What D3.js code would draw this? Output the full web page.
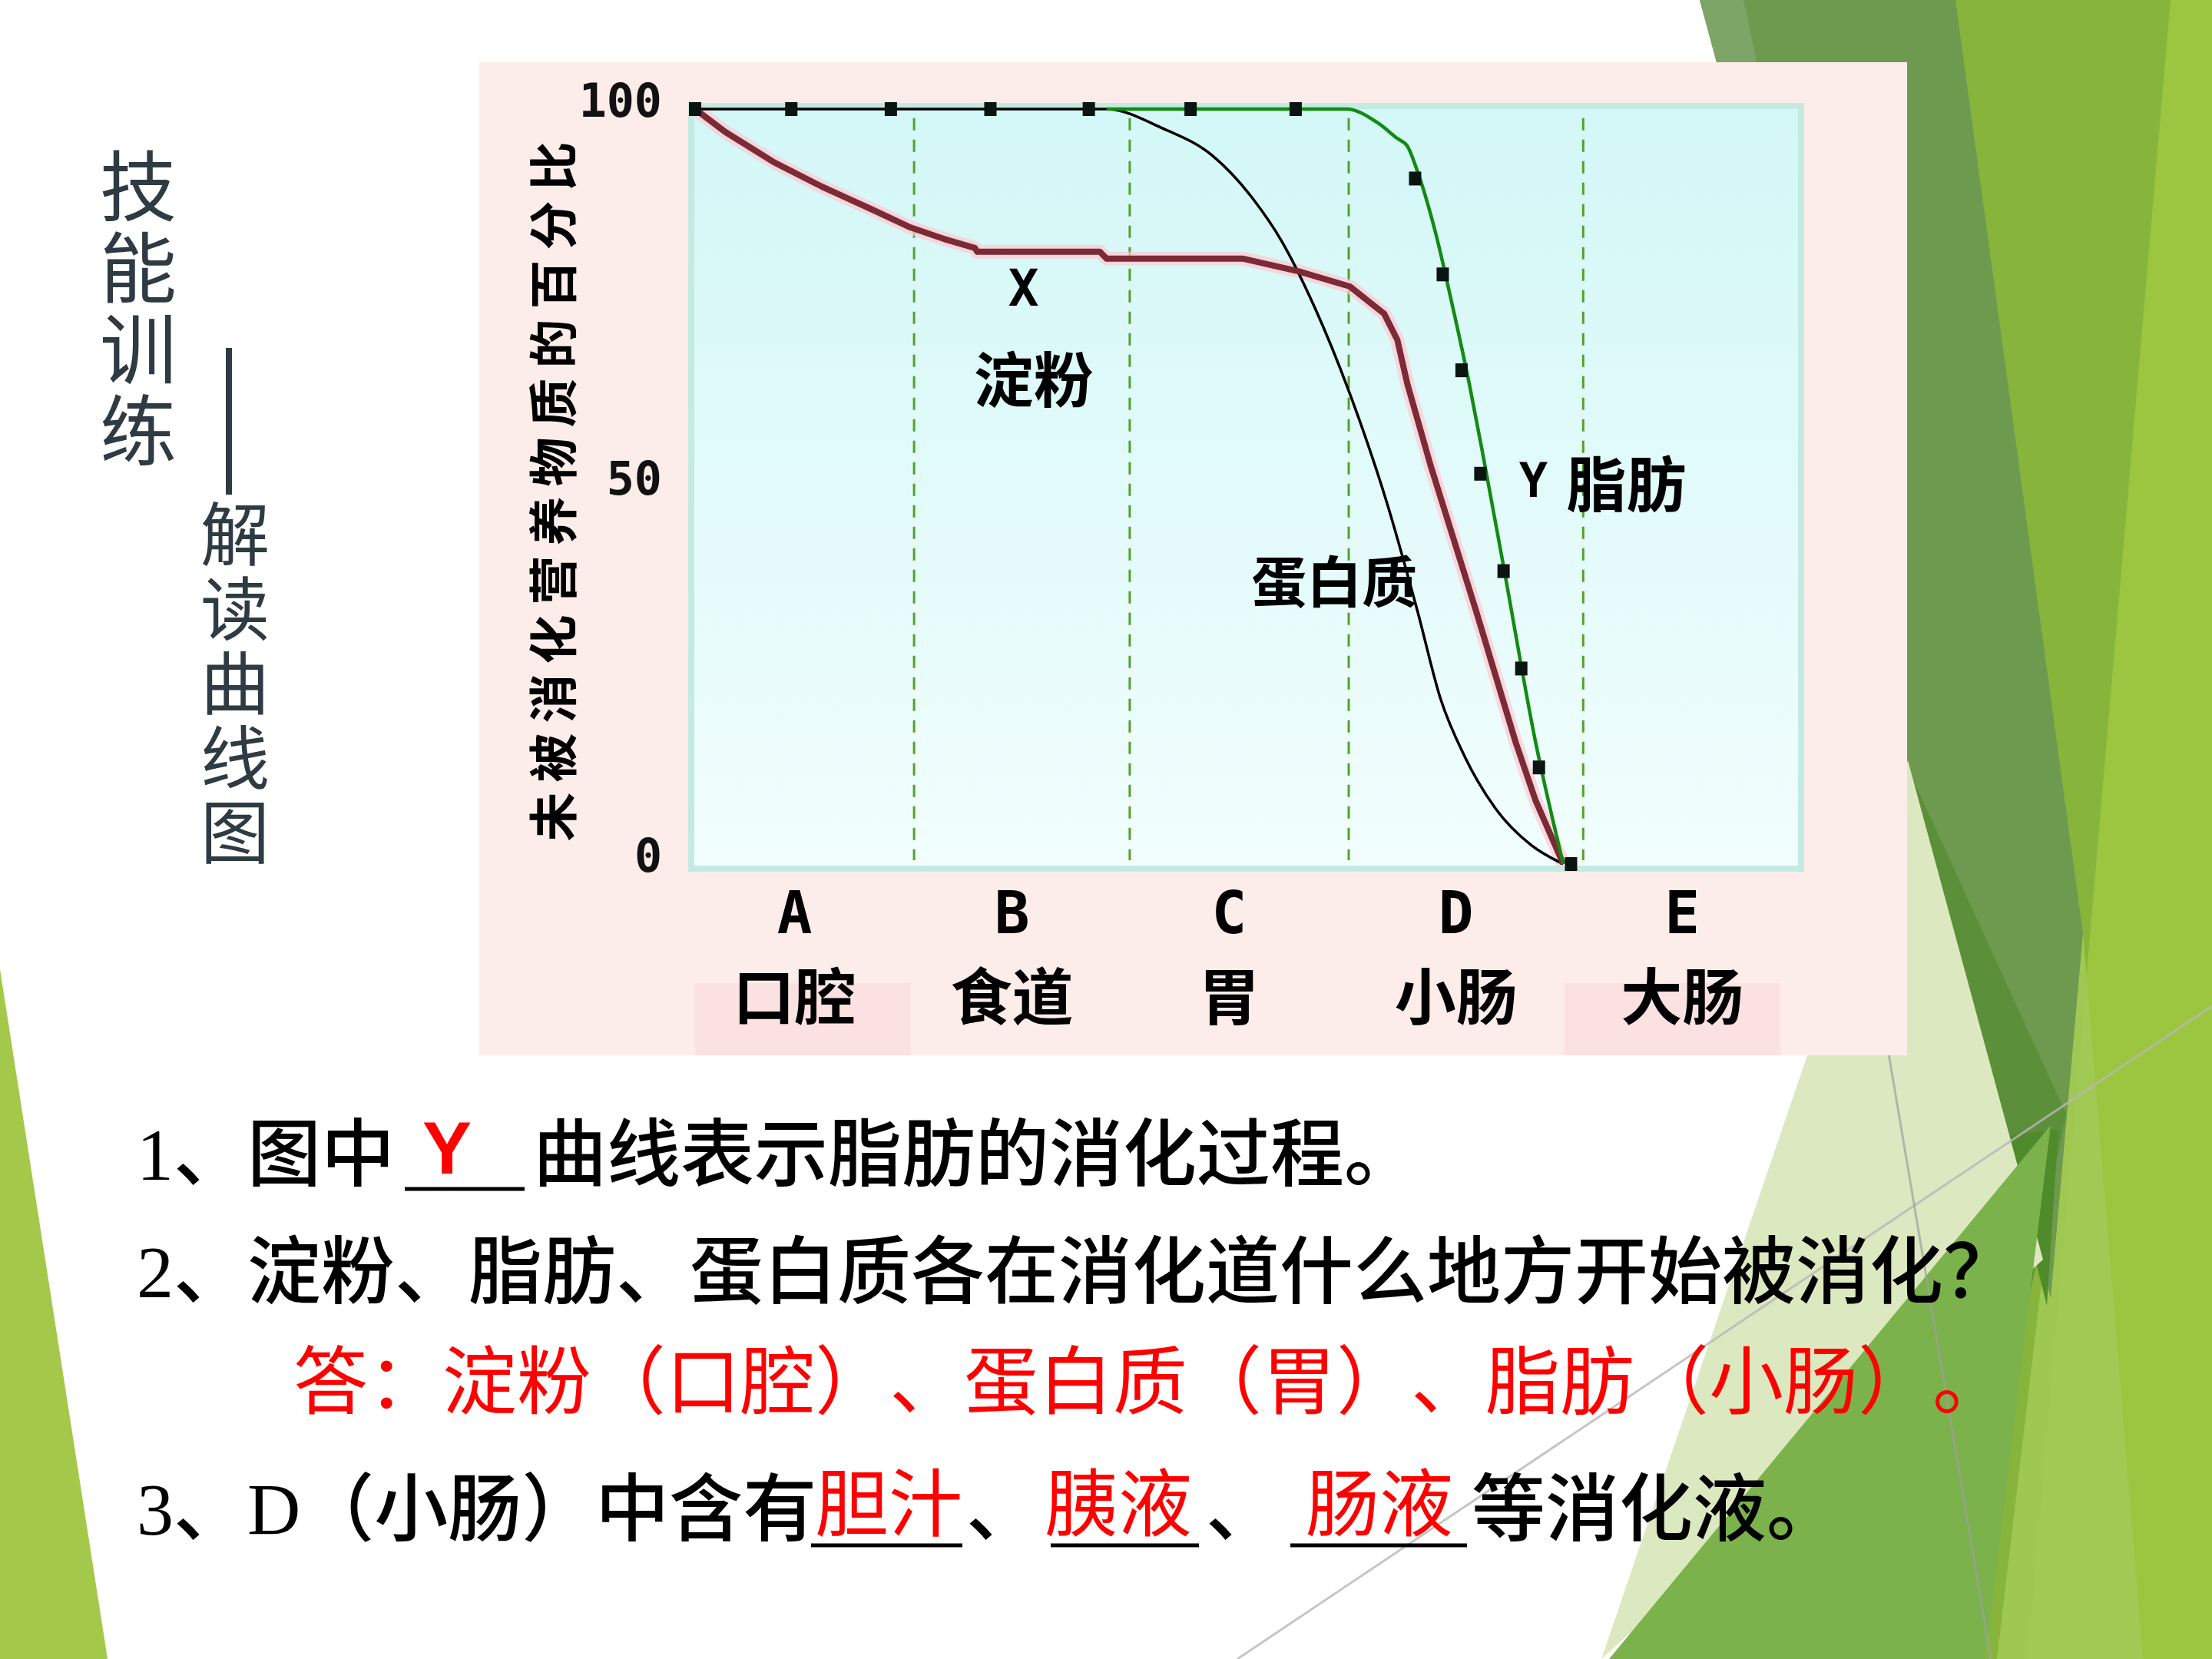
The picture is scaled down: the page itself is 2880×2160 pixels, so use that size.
<!DOCTYPE html>
<html><head><meta charset="utf-8">
<script src="https://cdn.jsdelivr.net/npm/d3@7"></script>
<style>html,body{margin:0;padding:0;background:#fff;} svg{display:block;}</style>
</head><body><svg id="c" width="2880" height="2160"></svg>
<script>
// ---------- data ----------
const regionLetters = ["A", "B", "C", "D", "E"];
const organNames = ["口腔", "食道", "胃", "小肠", "大肠"];
const regionBounds = [0, 19.8, 39.3, 59.1, 80.3, 100];
const yTickValues = [0, 50, 100];
const yAxisTitle = "未被消化营养物质的百分比";

// X : starch
const starchX = [0, 2.7, 7.2, 11.5, 16, 19.5, 22.5, 25.3, 25.5, 36.6, 37.2, 49.5, 54.6, 59.2, 62.3, 63.5, 64.4, 66.5, 70.6, 74.2, 76, 78.5];
const starchV = [100, 97, 92.9, 89.7, 86.7, 84.3, 82.8, 81.6, 81.1, 81.1, 80.2, 80.2, 78.5, 76.5, 72.9, 69.4, 63.6, 52.8, 33.6, 16.1, 8.4, 0];
// protein
const proteinX = [0, 37.2, 42.2, 46.8, 50.5, 53, 56, 59.4, 62.5, 65.3, 67.4, 69.6, 72.4, 75.6, 78.5];
const proteinV = [100, 100, 97.5, 93.8, 88, 82.6, 73.8, 61.5, 48.1, 33.6, 21.9, 14.2, 7.3, 2.5, 0];
// Y : fat
const fatX = [37.2, 58.9, 61.7, 63.5, 64.4, 65.3, 66.9, 68.5, 70, 71.3, 73.1, 76, 78.5];
const fatV = [100, 100, 98.2, 96.1, 95.1, 91.8, 83.9, 73.8, 63.6, 53.7, 39.4, 16.1, 0];
const fatMarkX = [0, 8.7, 17.7, 26.7, 35.6, 44.8, 54.3, 65.1, 67.6, 69.3, 71.0, 73.1, 74.7, 76.3, 79.2];
const fatMarkV = [100, 100, 100, 100, 100, 100, 100, 90.8, 78.1, 65.4, 51.7, 38.8, 25.9, 12.8, 0];

const seriesLetters = ["X", "Y"];
const seriesNames = ["淀粉", "脂肪", "蛋白质"];

const titleMain = "技能训练";
const titleSub = "解读曲线图";
const q1 = ["1、图中", "Y", "曲线表示脂肪的消化过程。"];
const q2 = "2、淀粉、脂肪、蛋白质各在消化道什么地方开始被消化？";
const a2 = "答：淀粉（口腔）、蛋白质（胃）、脂肪（小肠）。";
const q3 = ["3、D（小肠）中含有", "、", "、", "等消化液。"];
const a3 = ["胆汁", "胰液", "肠液"];

// ---------- drawing ----------
const svg = d3.select("#c");
const CJK = "'Noto Sans CJK SC', sans-serif";
const SERIF = "'Liberation Serif', 'Noto Sans CJK SC', serif";
const MONO = "'DejaVu Sans Mono', monospace";

svg.append("rect").attr("width", 2880).attr("height", 2160).attr("fill", "#ffffff");

// decorative background facets
const bg = svg.append("g");
const facets = [
  {p: [[2546,0],[2880,0],[2880,2160],[2560,2160]], f: "#87b53b"},
  {p: [[2826,0],[2880,0],[2880,2160],[2640,2160]], f: "#9cc63f"},
  {p: [[2712,1215],[2790,2160],[2600,2160]], f: "#a2ca56", o: 0.9},
  {p: [[2213,0],[2546,0],[2712,1215],[2670,1690],[2484,1000]], f: "#6e9a4f"},
  {p: [[2213,0],[2270,0],[2484,1000]], f: "#7ca567"},
  {p: [[2484,1000],[2690,1450],[2640,1700]], f: "#5c8f39"},
  {p: [[2610,1480],[2680,1470],[2665,1700]], f: "#4f8a2b"},
  {p: [[2484,990],[2660,1640],[2085,2160]], f: "#dce9c0"},
  {p: [[2670,1465],[2585,2160],[2095,2160]], f: "#7bb24b"},
  {p: [[0,1262],[140,2160],[0,2160]], f: "#a3c84a"}
];
bg.selectAll("polygon").data(facets).join("polygon")
  .attr("points", d => d.p.map(q => q.join(",")).join(" "))
  .attr("fill", d => d.f).attr("opacity", d => d.o || 1);
bg.append("line").attr("x1", 2880).attr("y1", 1310).attr("x2", 1611).attr("y2", 2160)
  .attr("stroke", "#b8b8b8").attr("stroke-width", 3).attr("opacity", 0.8);
bg.append("line").attr("x1", 2430).attr("y1", 1200).attr("x2", 2592).attr("y2", 2160)
  .attr("stroke", "#a0a0a0").attr("stroke-width", 3).attr("opacity", 0.7);

// chart panel
svg.append("rect").attr("x", 624).attr("y", 81).attr("width", 1859).attr("height", 1293).attr("fill", "#fdedea");
svg.append("rect").attr("x", 905).attr("y", 1280).attr("width", 281).attr("height", 94).attr("fill", "#fbe1e1");
svg.append("rect").attr("x", 2037).attr("y", 1280).attr("width", 281).attr("height", 94).attr("fill", "#fbe1e1");

const x = d3.scaleLinear().domain([0, 100]).range([905, 2345]);
const y = d3.scaleLinear().domain([0, 100]).range([1125, 142]);

const defs = svg.append("defs");
const grad = defs.append("linearGradient").attr("id", "plotg").attr("x1", 0).attr("x2", 0).attr("y1", 0).attr("y2", 1);
grad.append("stop").attr("offset", 0).attr("stop-color", "#d3f7f7");
grad.append("stop").attr("offset", 1).attr("stop-color", "#f1fefd");

svg.append("rect").attr("x", x(0) - 5).attr("y", y(100) - 4).attr("width", x(100) - x(0) + 5).attr("height", y(0) - y(100) + 10)
  .attr("fill", "url(#plotg)").attr("stroke", "#c3ebe2").attr("stroke-width", 8);

// region boundaries (dashed)
svg.append("g").selectAll("line").data(regionBounds.slice(1, -1)).join("line")
  .attr("x1", d => x(d)).attr("x2", d => x(d))
  .attr("y1", y(98.8)).attr("y2", y(0.5))
  .attr("stroke", "#55a02a").attr("stroke-width", 3).attr("stroke-dasharray", "16,12");

// y tick labels
svg.append("g").selectAll("text").data(yTickValues).join("text")
  .attr("x", 862).attr("y", d => y(d) - 11)
  .attr("text-anchor", "end").attr("dominant-baseline", "central")
  .attr("font-family", MONO).attr("font-weight", "bold").attr("font-size", 60).attr("fill", "#111")
  .text(d => d);

// y title (rotated)
svg.append("text").attr("transform", "translate(716,640) rotate(-90)")
  .attr("text-anchor", "middle").attr("dominant-baseline", "central")
  .attr("font-family", CJK).attr("font-weight", 700).attr("font-size", 64).attr("fill", "#000")
  .attr("textLength", 911).attr("lengthAdjust", "spacing")
  .text(yAxisTitle);

// x labels: letter row and organ-name row
const centers = regionLetters.map((d, i) => (regionBounds[i] + regionBounds[i + 1]) / 2);
svg.append("g").selectAll("text").data(regionLetters).join("text")
  .attr("x", (d, i) => x(centers[i]) - 13).attr("y", 1188)
  .attr("text-anchor", "middle").attr("dominant-baseline", "central")
  .attr("font-family", MONO).attr("font-weight", "bold").attr("font-size", 76).attr("fill", "#000")
  .text(d => d);
svg.append("g").selectAll("text").data(organNames).join("text")
  .attr("x", (d, i) => x(centers[i]) - 13).attr("y", 1292)
  .attr("text-anchor", "middle").attr("dominant-baseline", "central")
  .attr("font-family", CJK).attr("font-weight", 700).attr("font-size", 80).attr("fill", "#000")
  .text(d => d);

// lines
const zip = (xs, vs) => xs.map((d, i) => [d, vs[i]]);
const lineLin = d3.line().x(d => x(d[0])).y(d => y(d[1]));
const lineSmooth = d3.line().x(d => x(d[0])).y(d => y(d[1])).curve(d3.curveMonotoneX);

svg.append("path").attr("d", lineLin(zip(starchX, starchV))).attr("fill", "none")
  .attr("stroke", "#ffc9d2").attr("stroke-width", 18).attr("stroke-linejoin", "round").attr("opacity", 0.7);
svg.append("path").attr("d", lineSmooth(zip(proteinX, proteinV))).attr("fill", "none")
  .attr("stroke", "#000").attr("stroke-width", 3.5);
svg.append("path").attr("d", lineLin(zip(starchX, starchV))).attr("fill", "none")
  .attr("stroke", "#7b2a36").attr("stroke-width", 8).attr("stroke-linejoin", "round");
svg.append("path").attr("d", lineSmooth(zip(fatX, fatV))).attr("fill", "none")
  .attr("stroke", "#138a13").attr("stroke-width", 4.5);

svg.append("g").selectAll("rect").data(zip(fatMarkX, fatMarkV)).join("rect")
  .attr("x", d => x(d[0]) - 8).attr("y", d => y(d[1]) - 9)
  .attr("width", 16).attr("height", 18).attr("fill", "#0a1410");

// series labels
svg.append("text").attr("x", x(29.7)).attr("y", y(76.2)).attr("text-anchor", "middle").attr("dominant-baseline", "central")
  .attr("font-family", MONO).attr("font-weight", "bold").attr("font-size", 66).text(seriesLetters[0]);
svg.append("text").attr("x", x(30.6)).attr("y", y(64.6)).attr("text-anchor", "middle").attr("dominant-baseline", "central")
  .attr("font-family", CJK).attr("font-weight", 700).attr("font-size", 78).text(seriesNames[0]);
svg.append("text").attr("x", x(75.8)).attr("y", y(50.8)).attr("text-anchor", "middle").attr("dominant-baseline", "central")
  .attr("font-family", MONO).attr("font-weight", "bold").attr("font-size", 62).text(seriesLetters[1]);
svg.append("text").attr("x", x(84.2)).attr("y", y(50.8)).attr("text-anchor", "middle").attr("dominant-baseline", "central")
  .attr("font-family", CJK).attr("font-weight", 700).attr("font-size", 78).text(seriesNames[1]);
svg.append("text").attr("x", x(57.8)).attr("y", y(37.9)).attr("text-anchor", "middle").attr("dominant-baseline", "central")
  .attr("font-family", CJK).attr("font-weight", 700).attr("font-size", 72).text(seriesNames[2]);

// slide title (vertical writing)
const tcol = "#2e3b42";
svg.append("text").attr("x", 180).attr("y", 192)
  .style("writing-mode", "vertical-rl").style("letter-spacing", "6px")
  .attr("font-family", CJK).attr("font-size", 100).attr("fill", tcol).text(titleMain);
svg.append("rect").attr("x", 294).attr("y", 453).attr("width", 8).attr("height", 191).attr("fill", tcol);
svg.append("text").attr("x", 306).attr("y", 650)
  .style("writing-mode", "vertical-rl").style("letter-spacing", "7px")
  .attr("font-family", CJK).attr("font-size", 90).attr("fill", tcol).text(titleSub);

// questions: each glyph placed on its own advance (no CJK punctuation trimming)
const meas = svg.append("text").attr("x", -9999).attr("y", -9999);
function advance(ch, fs, fam, wt) {
  if (ch.charCodeAt(0) > 0x2000) return fs;
  meas.attr("font-size", fs).attr("font-family", fam).attr("font-weight", wt || "normal").text(ch);
  return meas.node().getComputedTextLength();
}
function row(str, x0, yc, fs, fam, fill, wt) {
  const t = svg.append("text").attr("y", yc).attr("dominant-baseline", "central")
    .attr("font-size", fs).attr("font-family", fam).attr("fill", fill).attr("font-weight", wt || "normal");
  let cx = x0;
  for (const ch of str) {
    t.append("tspan").attr("x", cx).text(ch);
    cx += advance(ch, fs, fam, wt);
  }
  return cx;
}
const FS = 96;
const BW = 500;
row(q1[0], 178, 1503, FS, SERIF, "#000", BW);
svg.append("text").attr("x", 582).attr("y", 1494).attr("text-anchor", "middle").attr("dominant-baseline", "central")
  .attr("font-size", FS).attr("font-family", "'Liberation Sans', sans-serif").attr("font-weight", "bold").attr("fill", "#ff0000").text(q1[1]);
svg.append("line").attr("x1", 527).attr("x2", 683).attr("y1", 1548).attr("y2", 1548).attr("stroke", "#000").attr("stroke-width", 5);
row(q1[2], 694, 1503, FS, SERIF, "#000", BW);

row(q2, 178, 1656, FS, SERIF, "#000", BW);
row(a2, 382, 1790, 97, CJK, "#ff0000");

row(q3[0], 178, 1965, FS, SERIF, "#000", BW);
const blankX = [[1056, 1253], [1368, 1561], [1680, 1910]];
const a3X = [1157, 1456, 1796];
svg.selectAll("line.u").data(blankX).join("line").attr("class", "u")
  .attr("x1", d => d[0]).attr("x2", d => d[1]).attr("y1", 2012).attr("y2", 2012).attr("stroke", "#000").attr("stroke-width", 5);
svg.selectAll("text.a").data(a3).join("text").attr("class", "a")
  .attr("x", (d, i) => a3X[i]).attr("y", 1950).attr("text-anchor", "middle").attr("dominant-baseline", "central")
  .attr("font-family", CJK).attr("font-size", 96).attr("fill", "#ff0000").text(d => d);
row(q3[1], 1258, 1965, FS, SERIF, "#000", BW);
row(q3[2], 1570, 1965, FS, SERIF, "#000", BW);
row(q3[3], 1916, 1965, FS, SERIF, "#000", BW);
meas.remove();
</script>
</body></html>
